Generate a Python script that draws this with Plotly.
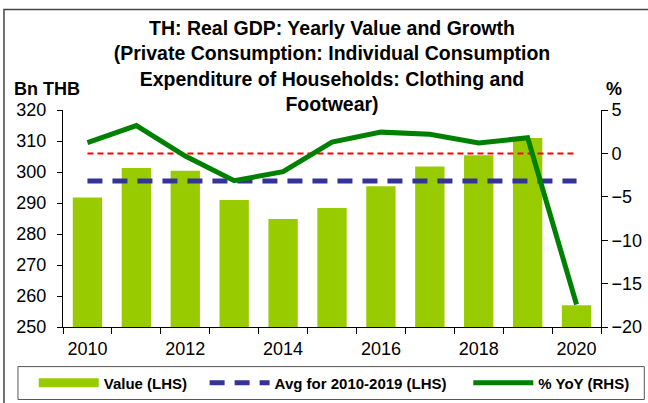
import plotly.graph_objects as go

years = [2010, 2011, 2012, 2013, 2014, 2015, 2016, 2017, 2018, 2019, 2020]
value_bn_thb = [291.8, 301.3, 300.4, 291.0, 284.8, 288.4, 295.4, 301.8, 305.4, 311.0, 257.0]
yoy_pct = [1.25, 3.2, -0.3, -3.15, -2.1, 1.3, 2.45, 2.2, 1.2, 1.8, -17.4]
avg_2010_2019 = sum(value_bn_thb[:10]) / 10
avg_line = [avg_2010_2019] * len(years)
zero_line = [0] * len(years)

FONT = "Liberation Sans, Arial, sans-serif"
NB = "\u00a0"

fig = go.Figure()
fig.add_trace(go.Bar(x=years, y=value_bn_thb, marker=dict(color="#99CC00", line=dict(width=0)),
                     width=0.6, name="Value (LHS)", showlegend=False))
fig.add_trace(go.Scatter(x=[None], y=[None], mode="lines", line=dict(color="#99CC00", width=9),
                         name="<b>Value (LHS)</b>" + NB * 3))
fig.add_trace(go.Scatter(x=years, y=avg_line, mode="lines",
                         line=dict(color="#333399", width=5, dash="15px,10px"),
                         name="<b>Avg for 2010-2019 (LHS)</b>" + NB * 4))
fig.add_trace(go.Scatter(x=years, y=zero_line, mode="lines", yaxis="y2",
                         line=dict(color="#FF0000", width=2, dash="6px,4px"), showlegend=False))
fig.add_trace(go.Scatter(x=years, y=yoy_pct, mode="lines", yaxis="y2",
                         line=dict(color="#008000", width=5), name="<b>% YoY (RHS)</b>"))

fig.update_layout(
    width=648, height=403,
    margin=dict(l=63, r=47, t=110, b=76, autoexpand=False),
    paper_bgcolor="white", plot_bgcolor="white",
    font=dict(family=FONT, color="black", size=18),
    title=dict(text="<b>TH: Real GDP: Yearly Value and Growth<br>(Private Consumption: Individual Consumption<br>Expenditure of Households: Clothing and<br>Footwear)</b>",
               x=0.5, xref="paper", xanchor="center", y=0.913, yref="container", yanchor="top",
               font=dict(size=19.5, family=FONT, color="black")),
    xaxis=dict(range=[2009.5, 2020.5], tick0=2010, dtick=2, ticks="", showgrid=False,
               showline=True, linecolor="black", linewidth=1, zeroline=False, automargin=False,
               tickfont=dict(size=18), ticklabelstandoff=5,
               minor=dict(ticks="outside", tick0=2009.5, dtick=1, ticklen=6, tickcolor="black", showgrid=False)),
    yaxis=dict(range=[250, 320], dtick=10, showgrid=False, zeroline=False, showline=True,
               linecolor="black", linewidth=1, ticks="outside", ticklen=5, tickcolor="black",
               tickfont=dict(size=18), automargin=False, ticklabelstandoff=7),
    yaxis2=dict(range=[-20, 5], dtick=5, overlaying="y", side="right", showgrid=False, zeroline=False,
                showline=True, linecolor="black", linewidth=1, ticks="outside", ticklen=6,
                tickcolor="black", tickfont=dict(size=18), automargin=False, ticklabelstandoff=0),
    legend=dict(orientation="h", x=-0.0544, xanchor="left", y=-0.258, yanchor="middle",
                font=dict(size=15, family=FONT, color="black"), itemwidth=60,
                bgcolor="rgba(0,0,0,0)", borderwidth=0, tracegroupgap=0),
    showlegend=True,
)

fig.add_annotation(text="<b>Bn THB</b>", xref="paper", yref="paper", x=-0.0298, y=1.095,
                   xanchor="center", yanchor="middle",
                   showarrow=False, font=dict(size=18, family=FONT, color="black"))
fig.add_annotation(text="<b>%</b>", xref="paper", yref="paper", x=1.0247, y=1.095,
                   xanchor="center", yanchor="middle",
                   showarrow=False, font=dict(size=18, family=FONT, color="black"))

# legend frame and outer chart frame
fig.add_shape(type="rect", xref="paper", yref="paper", x0=-0.0837, x1=1.0805, y0=-0.3341, y1=-0.1824,
              line=dict(color="#555555", width=1), fillcolor="rgba(0,0,0,0)", layer="above")
fig.add_shape(type="rect", xref="paper", yref="paper", x0=-0.1097, x1=1.12, y0=-0.3663, y1=1.4628,
              line=dict(color="#444444", width=1.5), fillcolor="rgba(0,0,0,0)", layer="above")

fig.write_html("out.html", config={"displayModeBar": False},
               post_script="document.body.style.margin='0px';")
